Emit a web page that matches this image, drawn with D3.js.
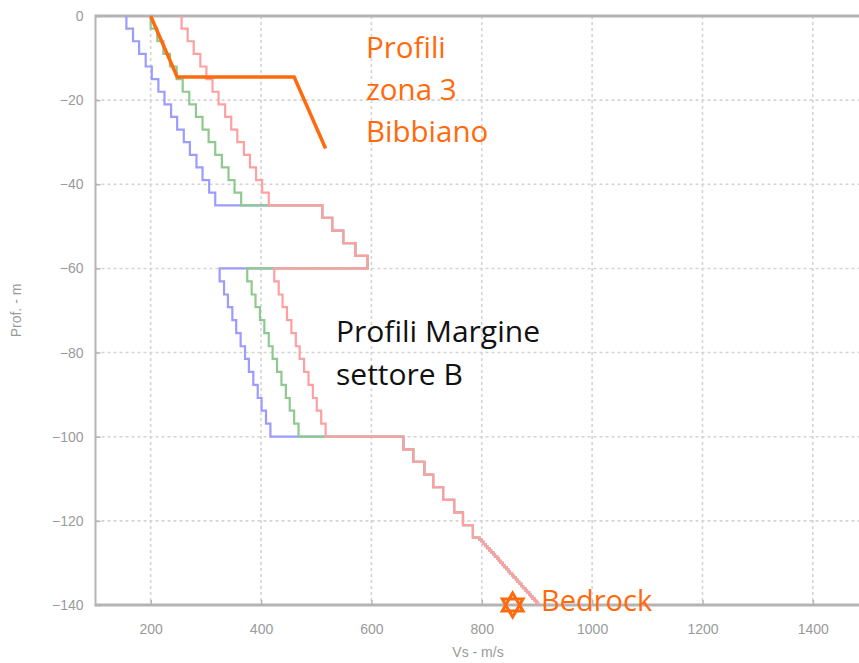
<!DOCTYPE html>
<html><head><meta charset="utf-8">
<script src="https://cdn.jsdelivr.net/npm/d3@7"></script>
<style>html,body{margin:0;padding:0;background:#fff;}svg{display:block;} .ann{font-variant-ligatures:none;}</style>
</head><body>
<svg id="chart" width="859" height="663"></svg>
<script>
// ---- data ----
const xTicks = [200, 400, 600, 800, 1000, 1200, 1400];
const yTicks = [0, -20, -40, -60, -80, -100, -120, -140];

// layer top depths (m) for each section
const depthsTop = [0, 3, 6, 9, 12, 15, 18, 21, 24, 27, 30, 33, 36, 39, 42];
const depthsShared1 = [45, 48, 51, 54, 57];
const depthsMid = [60, 63.1, 66.2, 69.2, 72.3, 75.4, 78.5, 81.5, 84.6, 87.7, 90.8, 93.8, 96.9];
const depthsDeep = [100, 103, 106, 109, 112, 115, 118, 121, 124, 124.5, 125, 125.5, 126, 126.5, 127, 127.5, 128, 128.5, 129, 129.5, 130, 130.5, 131, 131.5, 132, 132.5, 133, 133.5, 134, 134.5, 135, 135.5, 136, 136.5, 137, 137.5, 138, 138.5, 139, 139.5];
const depthBottom = 140;

// Vs values (m/s)
const blueTop  = [156, 168, 179, 191, 202, 214, 225, 237, 248, 260, 271, 283, 294, 306, 317];
const greenTop = [200, 212, 223, 235, 247, 258, 270, 282, 294, 305, 317, 329, 341, 352, 364];
const redTop   = [256, 267, 278, 290, 301, 312, 323, 335, 346, 357, 369, 380, 391, 402, 414];
const shared1  = [511, 529, 549, 571, 593];
const blueMid  = [325, 333, 340, 348, 355, 363, 371, 378, 386, 394, 401, 409, 417];
const greenMid = [375, 383, 390, 398, 406, 414, 421, 429, 437, 445, 452, 460, 468];
const redMid   = [424, 432, 439, 447, 455, 463, 470, 478, 486, 494, 501, 509, 517];
const sharedDeep = [658, 676, 696, 712, 730, 750, 766, 784,
  796, 800, 803, 807, 810, 814, 817, 821, 824, 828, 831, 834, 838, 841, 845, 848,
  851, 855, 858, 862, 865, 868, 872, 875, 879, 882, 886, 889, 892, 896, 899, 902];

// Bibbiano profile (Vs, depth)
const bibbianoVs = [200, 248, 460, 517];
const bibbianoDepth = [0, -14.5, -14.5, -31.5];

// Bedrock marker
const bedrockVs = 856;
const bedrockDepth = -140;

// ---- chart ----
const svg = d3.select("#chart");
const x = d3.scaleLinear().domain([100, 1500]).range([95.5, 868]);
const y = d3.scaleLinear().domain([0, -140]).range([16, 605]);

const gridColor = "#d4d4d4";
const axisColor = "#b4b4b4";
const tickTextColor = "#9a9a9a";

// gridlines
svg.append("g").selectAll("line").data(xTicks).join("line")
  .attr("x1", d => x(d)).attr("x2", d => x(d))
  .attr("y1", y(0)).attr("y2", y(-140))
  .attr("stroke", gridColor).attr("stroke-width", 1.6).attr("stroke-dasharray", "3,3");
svg.append("g").selectAll("line").data(yTicks.filter(d => d !== 0 && d !== -140)).join("line")
  .attr("x1", x(100)).attr("x2", 859)
  .attr("y1", d => y(d)).attr("y2", d => y(d))
  .attr("stroke", gridColor).attr("stroke-width", 1.6).attr("stroke-dasharray", "3,3");

// axes
const yAxis = d3.axisLeft(y).tickValues(yTicks).tickSize(-5).tickPadding(12).tickFormat(d3.format("d"));
const xAxis = d3.axisBottom(x).tickValues(xTicks).tickSize(-5).tickPadding(19).tickFormat(d3.format("d"));

const gy = svg.append("g").attr("transform", `translate(${x(100)},0)`).call(yAxis);
const gx = svg.append("g").attr("transform", `translate(0,${y(-140)})`).call(xAxis);
[gx, gy].forEach(g => {
  g.select(".domain").remove();
  g.selectAll(".tick line").attr("stroke", axisColor).attr("stroke-width", 1.5);
  g.selectAll(".tick text").attr("fill", tickTextColor)
    .style("font-family", "'Liberation Sans', Arial, sans-serif").style("font-size", "14px");
});

// frame
svg.append("line").attr("x1", x(100)).attr("x2", 859).attr("y1", y(0)).attr("y2", y(0))
  .attr("stroke", axisColor).attr("stroke-width", 3);
svg.append("line").attr("x1", x(100)).attr("x2", 859).attr("y1", y(-140)).attr("y2", y(-140))
  .attr("stroke", axisColor).attr("stroke-width", 3);
svg.append("line").attr("x1", x(100)).attr("x2", x(100)).attr("y1", y(0) - 1.5).attr("y2", y(-140) + 1.5)
  .attr("stroke", axisColor).attr("stroke-width", 2);

// axis titles
svg.append("text").attr("x", 478).attr("y", 657).attr("text-anchor", "middle")
  .attr("fill", tickTextColor).style("font-family", "'Liberation Sans', Arial, sans-serif").style("font-size", "14px")
  .text("Vs - m/s");
svg.append("text").attr("transform", `translate(21,${(y(0) + y(-140)) / 2}) rotate(-90)`).attr("text-anchor", "middle")
  .attr("fill", tickTextColor).style("font-family", "'Liberation Sans', Arial, sans-serif").style("font-size", "14px")
  .text("Prof. - m");

// step profiles
function buildSteps(vals, tops) {
  const pts = [];
  for (let i = 0; i < vals.length; i++) {
    pts.push([vals[i], tops[i]]);
    pts.push([vals[i], tops[i + 1]]);
  }
  return pts;
}
function profile(topVals, midVals) {
  const vals = [].concat(topVals, shared1, midVals, sharedDeep);
  const tops = [].concat(depthsTop, depthsShared1, depthsMid, depthsDeep, [depthBottom]);
  return buildSteps(vals, tops);
}
const line = d3.line().x(d => x(d[0])).y(d => y(-d[1]));
const series = [
  { vals: profile(blueTop, blueMid), color: "#9c9cff" },
  { vals: profile(greenTop, greenMid), color: "#8fc98f" },
  { vals: profile(redTop, redMid), color: "#ffa0a0" }
];
svg.append("g").selectAll("path").data(series).join("path")
  .attr("d", d => line(d.vals))
  .attr("fill", "none").attr("stroke", d => d.color).attr("stroke-width", 2.2);

// Bibbiano line
const orange = "#ff6a0d";
svg.append("path")
  .attr("d", d3.line().x((d, i) => x(bibbianoVs[i])).y((d, i) => y(bibbianoDepth[i]))(bibbianoVs))
  .attr("fill", "none").attr("stroke", orange).attr("stroke-width", 3.5).attr("stroke-linejoin", "miter");

// bedrock star (hexagram)
const sx = x(bedrockVs), sy = y(bedrockDepth), r = 12;
function tri(rot) {
  return d3.range(3).map(k => {
    const a = rot + k * 2 * Math.PI / 3;
    return [sx + r * Math.sin(a), sy - r * Math.cos(a)];
  });
}
svg.append("g").selectAll("path").data([tri(0), tri(Math.PI)]).join("path")
  .attr("d", d => "M" + d.join("L") + "Z")
  .attr("fill", "none").attr("stroke", orange).attr("stroke-width", 3).attr("stroke-linejoin", "miter");

// annotations
const annFont = "'Open Sans', 'Noto Sans', sans-serif";
const bib = svg.append("text").attr("class", "ann").attr("fill", orange).style("font-family", annFont).style("font-size", "29.5px");
["Profili", "zona 3", "Bibbiano"].forEach((t, i) => {
  bib.append("tspan").attr("x", 366).attr("y", 58 + i * 42).text(t);
});
const marg = svg.append("text").attr("class", "ann").attr("fill", "#111").style("font-family", annFont).style("font-size", "30px");
["Profili Margine", "settore B"].forEach((t, i) => {
  marg.append("tspan").attr("x", 336).attr("y", 342 + i * 43).text(t);
});
svg.append("text").attr("class", "ann").attr("x", 541).attr("y", 611).attr("fill", orange)
  .style("font-family", annFont).style("font-size", "29px").text("Bedrock");
</script>
</body></html>
